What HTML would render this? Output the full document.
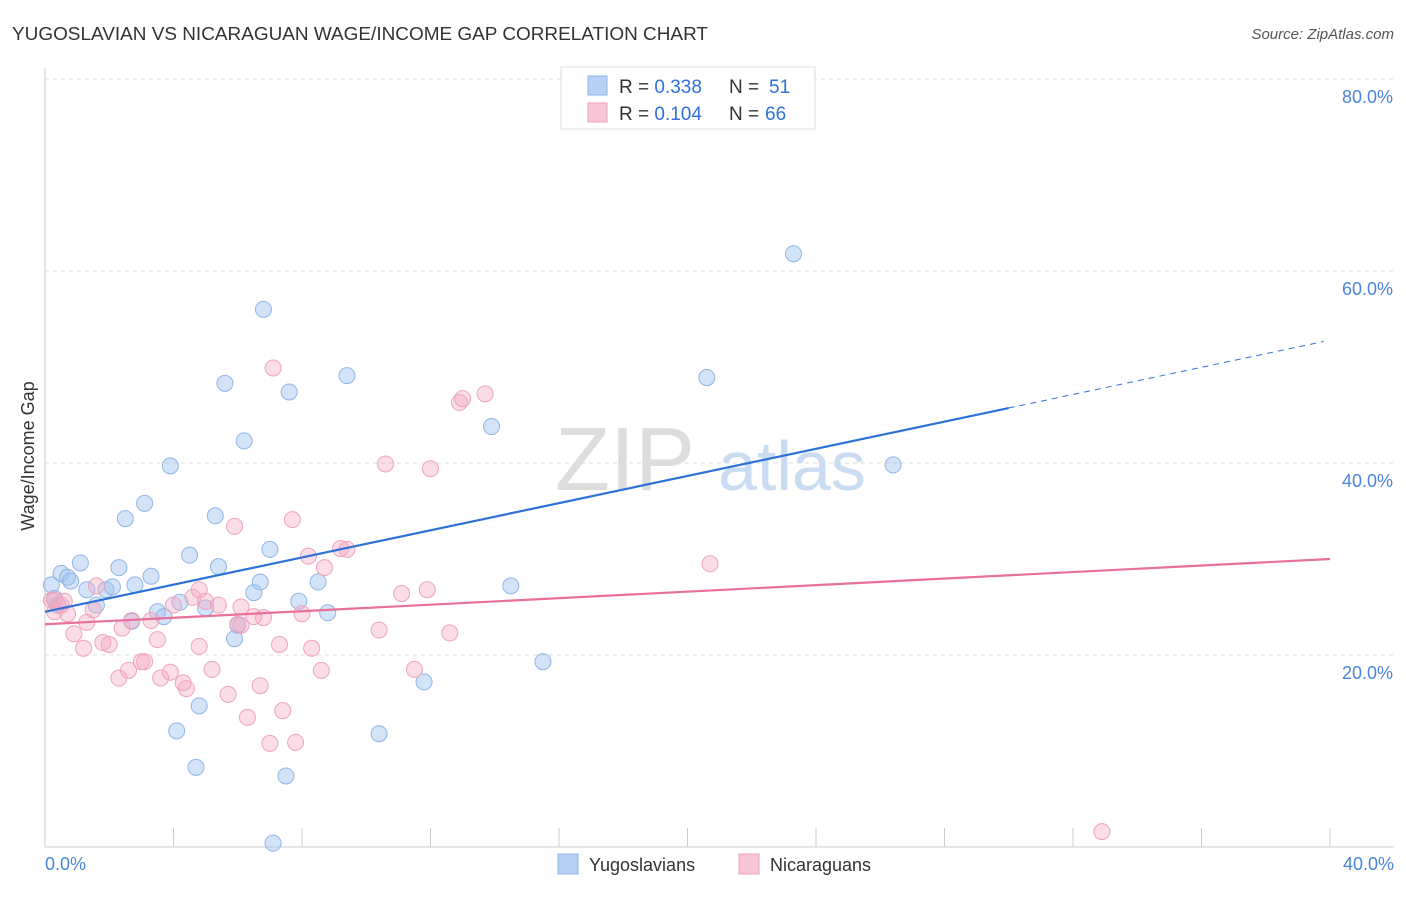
<!DOCTYPE html>
<html><head><meta charset="utf-8"><style>
body{margin:0;background:#fff;font-family:"Liberation Sans",sans-serif}
svg text{font-family:"Liberation Sans",sans-serif}
</style></head><body>
<svg width="1406" height="892" viewBox="0 0 1406 892">
<text x="12" y="40" font-size="18" fill="#333" textLength="696" lengthAdjust="spacingAndGlyphs">YUGOSLAVIAN VS NICARAGUAN WAGE/INCOME GAP CORRELATION CHART</text>
<text x="1394" y="39" font-size="15" fill="#555" font-style="italic" text-anchor="end">Source: ZipAtlas.com</text>
<g id="grid"></g>
<g><text x="555" y="490" font-size="90" fill="#ddd" font-family="Liberation Serif">ZIP</text><text x="718" y="490" font-size="70" fill="#c9dcf2">atlas</text></g>
<g id="axes"></g>
<g id="pts"></g>
<g id="lines"></g>
<text transform="translate(34,456) rotate(-90)" font-size="18" fill="#333" text-anchor="middle">Wage/Income Gap</text>
<g>
<rect x="561" y="67" width="254" height="62" fill="#fff" stroke="#ddd"/>
<rect x="588" y="76" width="19" height="19" fill="#b6d1f3" stroke="#8fb5e6"/>
<rect x="588" y="103" width="19" height="19" fill="#f8c6d6" stroke="#eea3bc"/>
<text x="619" y="93" font-size="19" fill="#333">R = <tspan fill="#2f72d6">0.338</tspan></text>
<text x="729" y="93" font-size="19" fill="#333">N =</text>
<text x="769" y="93" font-size="19" fill="#2f72d6">51</text>
<text x="619" y="120" font-size="19" fill="#333">R = <tspan fill="#2f72d6">0.104</tspan></text>
<text x="729" y="120" font-size="19" fill="#333">N =</text>
<text x="765" y="120" font-size="19" fill="#2f72d6">66</text>
</g>
<g>
<rect x="558" y="854" width="20" height="20" fill="#b6d1f3" stroke="#8fb5e6"/>
<text x="589" y="871" font-size="18" fill="#333">Yugoslavians</text>
<rect x="739" y="854" width="20" height="20" fill="#f8c6d6" stroke="#eea3bc"/>
<text x="770" y="871" font-size="18" fill="#333">Nicaraguans</text>
</g>
</svg>
<script>
const blueX=[0.2,0.3,0.4,0.5,0.7,0.8,1.1,1.3,1.6,1.9,2.1,2.3,2.5,2.7,2.8,3.1,3.3,3.5,3.7,3.9,4.1,4.2,4.5,4.7,4.8,5.0,5.3,5.4,5.6,5.9,6.0,6.2,6.5,6.7,6.8,7.0,7.1,7.5,7.6,7.9,8.5,8.8,9.4,10.4,11.8,13.9,14.5,15.5,20.6,23.3,26.4];
const blueY=[27.3,25.9,25.2,28.5,28.1,27.7,29.6,26.8,25.2,26.8,27.1,29.1,34.2,23.5,27.3,35.8,28.2,24.5,24.0,39.7,12.1,25.5,30.4,8.3,14.7,24.9,34.5,29.2,48.3,21.7,23.1,42.3,26.5,27.6,56.0,31.0,0.4,7.4,47.4,25.6,27.6,24.4,49.1,11.8,17.2,43.8,27.2,19.3,48.9,61.8,39.8];
const pinkX=[0.2,0.3,0.3,0.5,0.6,0.7,0.9,1.2,1.3,1.5,1.6,1.8,2.0,2.3,2.4,2.6,2.7,3.0,3.1,3.3,3.5,3.6,3.9,4.0,4.3,4.4,4.6,4.8,4.8,5.0,5.2,5.4,5.7,5.9,6.0,6.1,6.1,6.3,6.5,6.7,6.8,7.0,7.1,7.3,7.4,7.7,7.8,8.0,8.2,8.3,8.6,8.7,9.2,9.4,10.4,10.6,11.1,11.5,11.9,12.0,12.6,12.9,13.0,13.7,20.7,32.9];
const pinkY=[25.7,24.5,25.7,25.2,25.6,24.3,22.2,20.7,23.4,24.7,27.2,21.3,21.1,17.6,22.8,18.4,23.6,19.3,19.3,23.6,21.6,17.6,18.2,25.2,17.1,16.5,26.0,26.8,20.9,25.6,18.5,25.2,15.9,33.4,23.2,23.1,25.0,13.5,24.0,16.8,23.9,10.8,49.9,21.1,14.2,34.1,10.9,24.3,30.3,20.7,18.4,29.1,31.1,31.0,22.6,39.9,26.4,18.5,26.8,39.4,22.3,46.3,46.7,47.2,29.5,1.6];
const blueTrend=[24.5,52.8];
const pinkTrend=[23.2,30.0];
const yTicks=[20,40,60,80];
const xTickLabels=["0.0%","40.0%"];
const NS="http://www.w3.org/2000/svg";
const X=v=>45+v*32.125, Y=v=>847-v*9.6;
function mk(p,t,a){const e=document.createElementNS(NS,t);for(const k in a)e.setAttribute(k,a[k]);p.appendChild(e);return e;}
const grid=document.getElementById('grid'),axes=document.getElementById('axes'),pts=document.getElementById('pts'),lines=document.getElementById('lines');
yTicks.forEach(t=>{
 const l=mk(grid,'line',{x1:45,x2:1394,y1:Y(t),y2:Y(t),stroke:'#ddd','stroke-dasharray':'4,4'});
 
 
 const tx=mk(axes,'text',{x:1393,y:Y(t)+24,'font-size':18,fill:'#4a86d8','text-anchor':'end'});tx.textContent=t.toFixed(1)+'%';
 
 
});
let a=mk(axes,'line',{x1:45,x2:45,y1:68,y2:847,stroke:'#ccc'});


a=mk(axes,'line',{x1:45,x2:1394,y1:847,y2:847,stroke:'#ccc'});


for(let i=0;i<=10;i++){const t=mk(axes,'line',{x1:X(i*4),x2:X(i*4),y1:828,y2:847,stroke:'#ccc'});
 
 }
[[0,'start',45],[40,'end',1394]].forEach((d,i)=>{const t=mk(axes,'text',{x:d[2],y:870,'font-size':18,fill:'#4a86d8','text-anchor':d[1]});t.textContent=xTickLabels[i];
 
 });
blueX.forEach((v,i)=>{const c=mk(pts,'circle',{cx:X(v),cy:Y(blueY[i]),r:8,fill:'rgba(160,196,240,0.45)',stroke:'#8fb5e6','stroke-width':1});
 
 });
pinkX.forEach((v,i)=>{const c=mk(pts,'circle',{cx:X(v),cy:Y(pinkY[i]),r:8,fill:'rgba(245,170,195,0.4)',stroke:'#eea3bc','stroke-width':1});
 
 });
const bAt=x=>blueTrend[0]+(blueTrend[1]-blueTrend[0])*x/40;
let l=mk(lines,'line',{x1:X(0),y1:Y(bAt(0)),x2:X(30),y2:Y(bAt(30)),stroke:'#2f72d6','stroke-width':2.2});


l=mk(lines,'line',{x1:X(30),y1:Y(bAt(30)),x2:X(39.8),y2:Y(bAt(39.8)),stroke:'#2f72d6','stroke-width':1,'stroke-dasharray':'6,5'});


l=mk(lines,'line',{x1:X(0),y1:Y(pinkTrend[0]),x2:X(40),y2:Y(pinkTrend[1]),stroke:'#e8709a','stroke-width':2.2});


</script>
</body></html>
